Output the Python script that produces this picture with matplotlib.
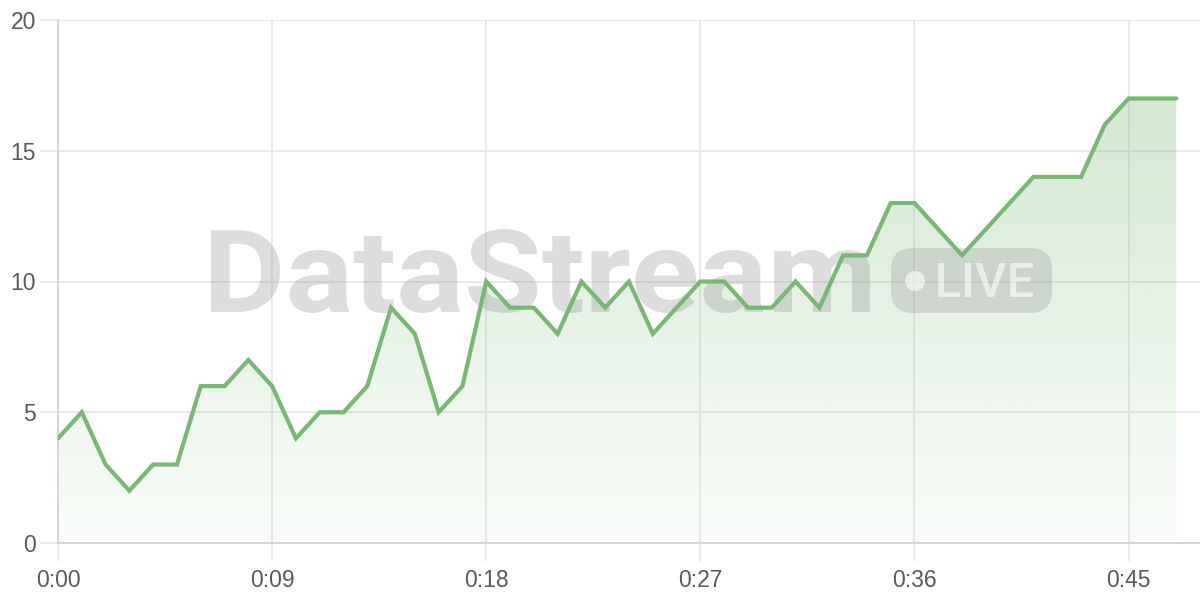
import matplotlib
matplotlib.use("Agg")
import matplotlib.pyplot as plt
import numpy as np
from matplotlib.patches import FancyBboxPatch, Circle, Polygon, PathPatch
from matplotlib.textpath import TextPath
from matplotlib.font_manager import FontProperties
from matplotlib.transforms import Affine2D

# minutes since start and the live value per minute
minutes = list(range(48))
values = [4, 5, 3, 2, 3, 3, 6, 6, 7, 6, 4, 5, 5, 6, 9, 8, 5, 6, 10, 9,
          9, 8, 10, 9, 10, 8, 9, 10, 10, 9, 9, 10, 9, 11, 11, 13, 13, 12, 11, 12,
          13, 14, 14, 14, 16, 17, 17, 17]
tick_minutes = [0, 9, 18, 27, 36, 45]
tick_labels = ["0:00", "0:09", "0:18", "0:27", "0:36", "0:45"]
y_ticks = [0, 5, 10, 15, 20]

line_color = "#78b874"
grid_color = "#e6e6e6"
label_color = "#5a5a5a"

fig = plt.figure(figsize=(12, 6), dpi=100)
ax = fig.add_axes([58 / 1200, 57 / 600, 1142 / 1200, 523 / 600])

ax.set_xlim(0, 48)
ax.set_ylim(0, 20)

# gradient fill under the line, clipped to the area polygon
grad = np.linspace(0.04, 0.32, 256).reshape(-1, 1)
rgba = np.zeros((256, 1, 4))
rgba[..., 0] = 0x78 / 255
rgba[..., 1] = 0xb8 / 255
rgba[..., 2] = 0x74 / 255
rgba[..., 3] = grad
img = ax.imshow(rgba, extent=[0, 47, 0, max(values)], origin="lower",
                aspect="auto", zorder=1)
poly = Polygon(list(zip(minutes, values)) + [(47, 0), (0, 0)], closed=True,
               facecolor="none", edgecolor="none")
ax.add_patch(poly)
img.set_clip_path(poly)

ax.set_xticks(tick_minutes)
ax.set_xticklabels(tick_labels)
ax.set_yticks(y_ticks)
ax.grid(True, color=grid_color, lw=1.2, zorder=0)
ax.set_axisbelow(True)
for side in ["top", "right"]:
    ax.spines[side].set_visible(False)
for side in ["left", "bottom"]:
    ax.spines[side].set_color("#d0d0d0")
    ax.spines[side].set_linewidth(1.2)
ax.tick_params(axis="both", colors=grid_color, width=1.2, length=13,
               labelcolor=label_color, labelsize=16.5)
ax.tick_params(axis="y", pad=3)
ax.tick_params(axis="x", pad=6)
for lab in ax.get_xticklabels() + ax.get_yticklabels():
    lab.set_family("Liberation Sans")
ax.set_xlim(0, 48)
ax.set_ylim(0, 20)

# watermark layer in pixel coordinates (y down)
wm = fig.add_axes([0, 0, 1, 1], zorder=2)
wm.set_xlim(0, 1200)
wm.set_ylim(600, 0)
wm.axis("off")
wm.patch.set_alpha(0)


def fit_text(s, x0, x1, y0, y1, weight, **kw):
    tp = TextPath((0, 0), s, size=100, prop=FontProperties(family="Roboto", weight=weight))
    ext = tp.get_extents()
    sx = (x1 - x0) / ext.width
    sy = (y1 - y0) / ext.height
    tr = Affine2D().translate(-ext.x0, -ext.y0).scale(sx, -sy).translate(x0, y1)
    wm.add_patch(PathPatch(tr.transform_path(tp), lw=0, **kw))


fit_text("DataStream", 211, 870, 229, 313, "bold", facecolor="#999999", alpha=0.33)
pill = FancyBboxPatch((891, 248), 161, 65, boxstyle="round,pad=0,rounding_size=22",
                      facecolor="#999999", edgecolor="none", alpha=0.3)
wm.add_patch(pill)
wm.add_patch(Circle((915, 281), 10, facecolor="white", edgecolor="none", alpha=0.6))
fit_text("LIVE", 938, 1033, 263, 297, "medium", facecolor="white", alpha=0.6)

# line on top of the watermark
line_ax = fig.add_axes(ax.get_position(), zorder=3, sharex=ax, sharey=ax)
line_ax.axis("off")
line_ax.patch.set_alpha(0)
line_ax.plot(minutes, values, color=line_color, lw=3,
             solid_joinstyle="miter", solid_capstyle="round")
line_ax.set_xlim(0, 48)
line_ax.set_ylim(0, 20)

fig.savefig("out.png", dpi=100)
